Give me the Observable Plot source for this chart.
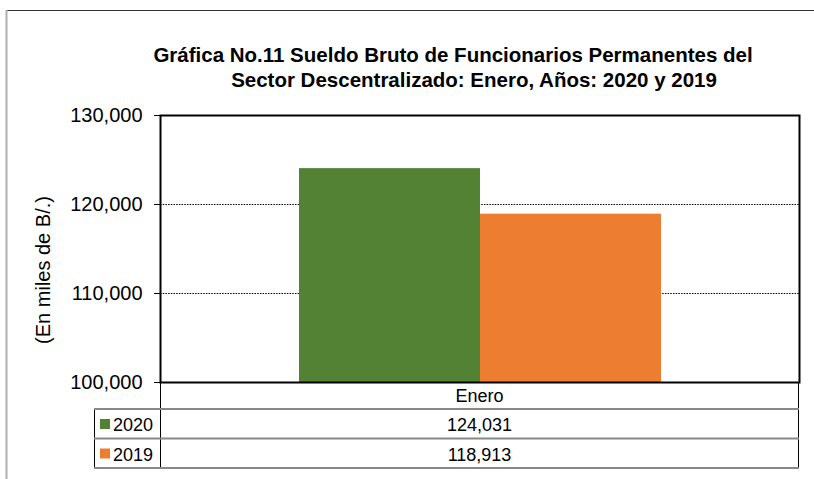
<!DOCTYPE html>
<html>
<head>
<meta charset="utf-8">
<script src="https://cdn.jsdelivr.net/npm/d3@7"></script>
<script src="https://cdn.jsdelivr.net/npm/@observablehq/plot@0.6"></script>
<style>
  html, body { margin: 0; padding: 0; background: #fff; }
  #wrap { position: relative; width: 814px; height: 479px; overflow: hidden; background: #fff; font-family: "Liberation Sans", Arial, sans-serif; }
  #wrap > svg { position: absolute; left: 0; top: 0; }
</style>
</head>
<body>
<div id="wrap"></div>
<script>
// ---- data ----
const titleLines = [
  "Gráfica No.11 Sueldo Bruto de Funcionarios Permanentes del",
  "Sector Descentralizado: Enero, Años: 2020 y 2019"
];
const yLabel = "(En miles de B/.)";
const categories = ["Enero"];
const years = ["2020", "2019"];
const values = [124031, 118913];
const colors = ["#548235", "#ED7D31"];
const yDomain = [100000, 130000];
const yTicks = [100000, 110000, 120000, 130000];
const gridTicks = [110000, 120000];

const data = years.map((y, i) => ({ year: y, month: categories[0], value: values[i] }));
const fmt = d3.format(",");

// ---- layout ----
const W = 814, H = 479;
const mTop = 115, mBottom = 97, mLeft = 160, mRight = 15;
const fx0 = mLeft, fx1 = W - mRight, fy1 = H - mBottom;
const font = "Liberation Sans, Arial, sans-serif";

const wrap = document.getElementById("wrap");

const chart = Plot.plot({
  width: W, height: H,
  marginTop: mTop, marginBottom: mBottom, marginLeft: mLeft, marginRight: mRight,
  style: { fontFamily: font, fontSize: "20px", color: "#000", background: "transparent", overflow: "visible" },
  x: { domain: years, paddingInner: 0, paddingOuter: 0.757, axis: null },
  y: { domain: yDomain, axis: null },
  color: { domain: years, range: colors },
  marks: [
    Plot.ruleY(gridTicks, { stroke: "#000", strokeWidth: 1, strokeDasharray: "1.5,1.2" }),
    Plot.barY(data, { x: "year", y1: () => yDomain[0], y2: "value", fill: "year" }),
    Plot.frame({ stroke: "#000", strokeWidth: 2 }),
    Plot.axisY({ ticks: yTicks, tickFormat: fmt, tickSize: 6, tickPadding: 12, fontSize: 20, label: null, stroke: "#000", fill: "#000" })
  ]
});
wrap.appendChild(chart);

// ---- overlay: border, title, y label, data table ----
const svg = d3.select(wrap).append("svg")
  .attr("width", W).attr("height", H)
  .style("font-family", font)
  .style("pointer-events", "none");

// outer chart-area border (top + left)
svg.append("line").attr("x1", 7).attr("x2", W).attr("y1", 10.5).attr("y2", 10.5).attr("stroke", "#333").attr("stroke-width", 1);
svg.append("line").attr("x1", 6.5).attr("x2", 6.5).attr("y1", 10).attr("y2", H).attr("stroke", "#b0b0b0").attr("stroke-width", 2);

// title
const titleCx = [453, 474], titleBase = [62, 87];
titleLines.forEach((t, i) => {
  svg.append("text").attr("x", titleCx[i]).attr("y", titleBase[i])
    .attr("text-anchor", "middle").attr("font-size", 20.5).attr("font-weight", "bold").attr("fill", "#000").text(t);
});

// y label
svg.append("text").attr("transform", "translate(50,270) rotate(-90)")
  .attr("text-anchor", "middle").attr("font-size", 20).attr("fill", "#000").text(yLabel);

// data table
const rowTop = fy1, headerBottom = 409, rowH = 29.5;
const leftCol = 94;
const tableBottom = headerBottom + rowH * years.length;
const vline = (x, y1, y2) => svg.append("line").attr("x1", x).attr("x2", x).attr("y1", y1).attr("y2", y2).attr("stroke", "#000").attr("stroke-width", 1);
vline(fx0 + 0.5, rowTop, tableBottom);
vline(fx1 - 0.5, rowTop, tableBottom);
vline(leftCol + 0.5, headerBottom, tableBottom);
for (let i = 0; i <= years.length; i++) {
  const y = headerBottom + rowH * i;
  svg.append("line").attr("x1", leftCol).attr("x2", fx1).attr("y1", y).attr("y2", y).attr("stroke", "#888").attr("stroke-width", 2);
}
const cx = (fx0 + fx1) / 2;
svg.append("text").attr("x", cx).attr("y", 402).attr("text-anchor", "middle").attr("font-size", 18).attr("fill", "#000").text(categories[0]);
years.forEach((yr, i) => {
  const base = headerBottom + rowH * i + 22;
  svg.append("rect").attr("x", 100).attr("y", base - 12).attr("width", 10).attr("height", 10).attr("fill", colors[i]);
  svg.append("text").attr("x", 113).attr("y", base).attr("font-size", 18).attr("fill", "#000").text(yr);
  svg.append("text").attr("x", cx).attr("y", base).attr("text-anchor", "middle").attr("font-size", 18).attr("fill", "#000").text(fmt(values[i]));
});
</script>
</body>
</html>
